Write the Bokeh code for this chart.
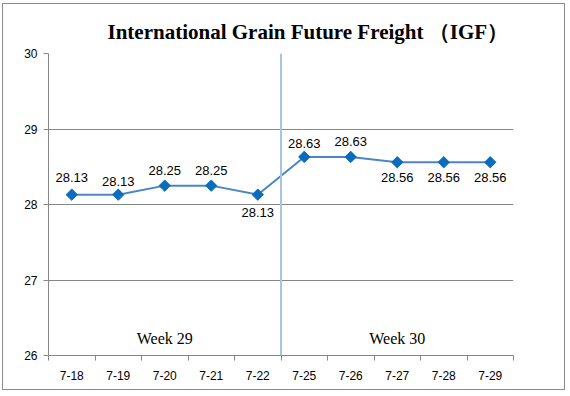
import math
from bokeh.plotting import figure
from bokeh.models import FixedTicker, Label, Span, ColumnDataSource, LabelSet, Title
from bokeh.core.properties import value
from bokeh.embed import file_html
from bokeh.resources import INLINE

categories = ["7-18", "7-19", "7-20", "7-21", "7-22", "7-25", "7-26", "7-27", "7-28", "7-29"]
values = [28.13, 28.13, 28.25, 28.25, 28.13, 28.63, 28.63, 28.56, 28.56, 28.56]
y_ticks = [26, 27, 28, 29, 30]
weeks = ["Week 29", "Week 30"]
week_centers = ["7-20", "7-27"]

# label placement style (pixels from the point to the label centre; negative = below)
label_dy = [17, 13, 15, 15, -18, 13, 15, -15, -15, -15]

xs = list(range(1, len(categories) + 1))

p = figure(width=563, height=387, x_range=(0.5, len(categories) + 0.5), y_range=(26, 30),
           output_backend="svg", toolbar_location=None,
           min_border_left=45, min_border_right=53, min_border_top=49, min_border_bottom=36)
p.styles = {"border": "1px solid #8c8c8c", "margin-left": "2px", "margin-top": "3px"}
p.outline_line_color = None
p.background_fill_color = "white"

# axes
p.xaxis.ticker = FixedTicker(ticks=xs, minor_ticks=[x - 0.5 for x in xs] + [len(xs) + 0.5])
p.xaxis.major_label_overrides = {x: c for x, c in zip(xs, categories)}
p.xaxis.major_tick_line_color = None
p.xaxis.minor_tick_out = 5
p.xaxis.minor_tick_in = 0
p.xaxis.minor_tick_line_color = "#868686"
p.xaxis.axis_line_color = "#868686"
p.xaxis.major_label_text_font = "Liberation Sans"
p.xaxis.major_label_text_font_size = "12px"
p.xaxis.major_label_text_color = "black"
p.xaxis.major_label_standoff = 9

p.yaxis.ticker = FixedTicker(ticks=y_ticks)
p.yaxis.minor_tick_line_color = None
p.yaxis.major_tick_out = 5
p.yaxis.major_tick_in = 0
p.yaxis.major_tick_line_color = "#868686"
p.yaxis.axis_line_color = "#868686"
p.yaxis.major_label_text_font = "Liberation Sans"
p.yaxis.major_label_text_font_size = "12px"
p.yaxis.major_label_text_color = "black"
p.yaxis.major_label_standoff = 6

p.xgrid.grid_line_color = None
p.ygrid.grid_line_color = "#868686"
p.ygrid.grid_line_width = 1

# week separator
sep = Span(location=categories.index("7-22") + 1.5, dimension="height",
           line_color="#a9c4df", line_width=2)
p.add_layout(sep)

# series
p.line(xs, values, line_color="#4a86c6", line_width=2)
p.scatter(xs, values, marker="square", size=8, angle=math.pi / 4,
          fill_color="#0a6cbf", line_color="#0a6cbf")

# data labels
src = ColumnDataSource(dict(x=xs, y=values, t=["%.2f" % v for v in values], dy=label_dy))
p.add_layout(LabelSet(x="x", y="y", text="t", source=src, y_offset="dy",
                      text_align="center", text_baseline="middle",
                      text_font=value("Liberation Sans"), text_font_size=value("13px"),
                      text_color=value("black")))

# week labels
for w, c in zip(weeks, week_centers):
    p.add_layout(Label(x=xs[categories.index(c)], y=26.23, text=w, text_align="center",
                       text_baseline="middle", text_font="Liberation Serif",
                       text_font_size="16px", text_color="black"))

# title
t = Title(text="International Grain Future Freight （IGF）", align="left",
          text_font="Liberation Serif", text_font_style="bold",
          text_font_size="21px", text_color="black", offset=59, standoff=19)
p.add_layout(t, "above")

open("out.html", "w").write(file_html(p, INLINE))
